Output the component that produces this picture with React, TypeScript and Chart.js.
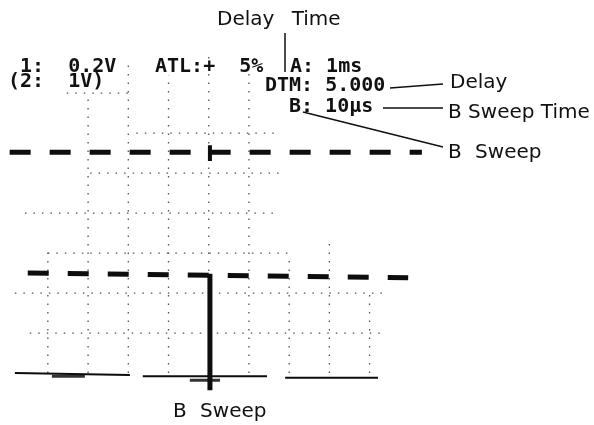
import React, { useEffect, useRef } from "react";
import { Chart, registerables } from "chart.js";

Chart.register(...registerables);

// Oscilloscope screen, values in graticule divisions (x: time div, y: vertical div)
const ch1X = [-0.95, 9.3];
const ch1Y = [5.52, 5.52];
const ch2X = [-0.5, 8.96];
const ch2Y = [2.5, 2.38];
const sweepX = [4.03, 4.03];
const sweepY = [2.48, -0.43];
const markX = [4.03, 4.03];
const markY = [5.7, 5.3];
const baseX = [-0.82, 2.04, null, 2.36, 5.45, null, 5.9, 8.21];
const baseY = [0, -0.05, null, -0.08, -0.08, null, -0.12, -0.12];
const smearX = [0.1, 0.92, null, 3.53, 4.28];
const smearY = [-0.08, -0.08, null, -0.18, -0.18];

const gridCols = [0, 1, 2, 3, 4, 5, 6, 7, 8];
const gridColTop = [3.1, 6.95, 7.8, 7.45, 7.95, 7.85, 2.95, 3.3, 2.0];
const gridRows = [1, 2, 3, 4, 5, 6, 7];
const gridRowStart = [-0.45, -0.82, 0, -0.57, 1.05, 2.2, 0.47];
const gridRowEnd = [8.26, 8.4, 6.0, 5.77, 5.9, 5.77, 2.16];

const readouts = ["1:  0.2V", "(2:  1V)", "ATL:+  5%", "A: 1ms", "DTM: 5.000", "B: 10μs"];
const callouts = ["Delay Time", "Delay", "B Sweep Time", "B Sweep", "B Sweep"];

const pts = (xs: (number | null)[], ys: (number | null)[]) =>
  xs.map((x, i) => ({ x: x as any, y: ys[i] as any }));

const annotationPlugin = {
  id: "scopeText",
  afterDraw(chart: any) {
    const ctx = chart.ctx;
    ctx.save();
    ctx.fillStyle = "#111";
    ctx.textBaseline = "alphabetic";
    ctx.textAlign = "left";
    ctx.font = "bold 20px 'DejaVu Sans Mono'";
    const monoPos = [
      [20, 72],
      [8, 87],
      [155, 72],
      [290, 72],
      [265, 91],
      [289, 112],
    ];
    readouts.forEach((t, i) => ctx.fillText(t, monoPos[i][0], monoPos[i][1]));

    ctx.font = "20px 'DejaVu Sans'";
    const calloutPos = [
      [217, 25, 11],
      [450, 88, 0],
      [448, 118, 0],
      [448, 158, 7],
      [173, 417, 7],
    ];
    callouts.forEach((t, i) => {
      (ctx as any).wordSpacing = calloutPos[i][2] + "px";
      ctx.fillText(t, calloutPos[i][0], calloutPos[i][1]);
    });
    (ctx as any).wordSpacing = "0px";

    ctx.strokeStyle = "#111";
    ctx.lineWidth = 1.5;
    const leaders = [
      [285, 33, 285, 72],
      [390, 88, 443, 84],
      [383, 108, 443, 108],
      [303, 112, 443, 147],
    ];
    leaders.forEach(([a, b, c, d]) => {
      ctx.beginPath();
      ctx.moveTo(a, b);
      ctx.lineTo(c, d);
      ctx.stroke();
    });
    ctx.restore();
  },
};

export default function App() {
  const ref = useRef<HTMLCanvasElement | null>(null);
  useEffect(() => {
    if (!ref.current) return;
    const gridStyle = {
      borderColor: "#555",
      borderWidth: 1.3,
      borderDash: [1.5, 7],
      pointRadius: 0,
      showLine: true,
      fill: false,
      order: 5,
    };
    const gridSets: any[] = [];
    gridCols.forEach((c, i) =>
      gridSets.push({ ...gridStyle, data: pts([c, c], [0, gridColTop[i]]) })
    );
    gridRows.forEach((r, i) =>
      gridSets.push({ ...gridStyle, data: pts([gridRowStart[i], gridRowEnd[i]], [r, r]) })
    );
    const trace = {
      borderColor: "#0d0d0d",
      pointRadius: 0,
      showLine: true,
      fill: false,
      spanGaps: false,
      order: 1,
    };
    const chart = new Chart(ref.current, {
      type: "scatter",
      data: {
        datasets: [
          { ...trace, label: "CH1", data: pts(ch1X, ch1Y), borderWidth: 5, borderDash: [21, 19] },
          { ...trace, label: "CH2", data: pts(ch2X, ch2Y), borderWidth: 5, borderDash: [21, 19] },
          { ...trace, label: "B Sweep", data: pts(sweepX, sweepY), borderWidth: 5 },
          { ...trace, label: "Mark", data: pts(markX, markY), borderWidth: 4 },
          { ...trace, label: "Baseline", data: pts(baseX, baseY), borderWidth: 2 },
          { ...trace, label: "Smear", data: pts(smearX, smearY), borderWidth: 3, borderColor: "#333" },
          ...gridSets,
        ],
      },
      options: {
        responsive: false,
        animation: false,
        layout: { padding: 0 },
        plugins: { legend: { display: false }, tooltip: { enabled: false }, title: { display: false } },
        scales: {
          x: { type: "linear", min: -1.19, max: 13.58, display: false },
          y: { type: "linear", min: -1.3, max: 9.33, display: false },
        },
      },
      plugins: [annotationPlugin],
    });
    return () => chart.destroy();
  }, []);
  return (
    <div style={{ position: "absolute", left: 0, top: 0, width: 594, height: 425, background: "#fff" }}>
      <canvas ref={ref} width={594} height={425} style={{ width: 594, height: 425, display: "block" }} />
    </div>
  );
}
